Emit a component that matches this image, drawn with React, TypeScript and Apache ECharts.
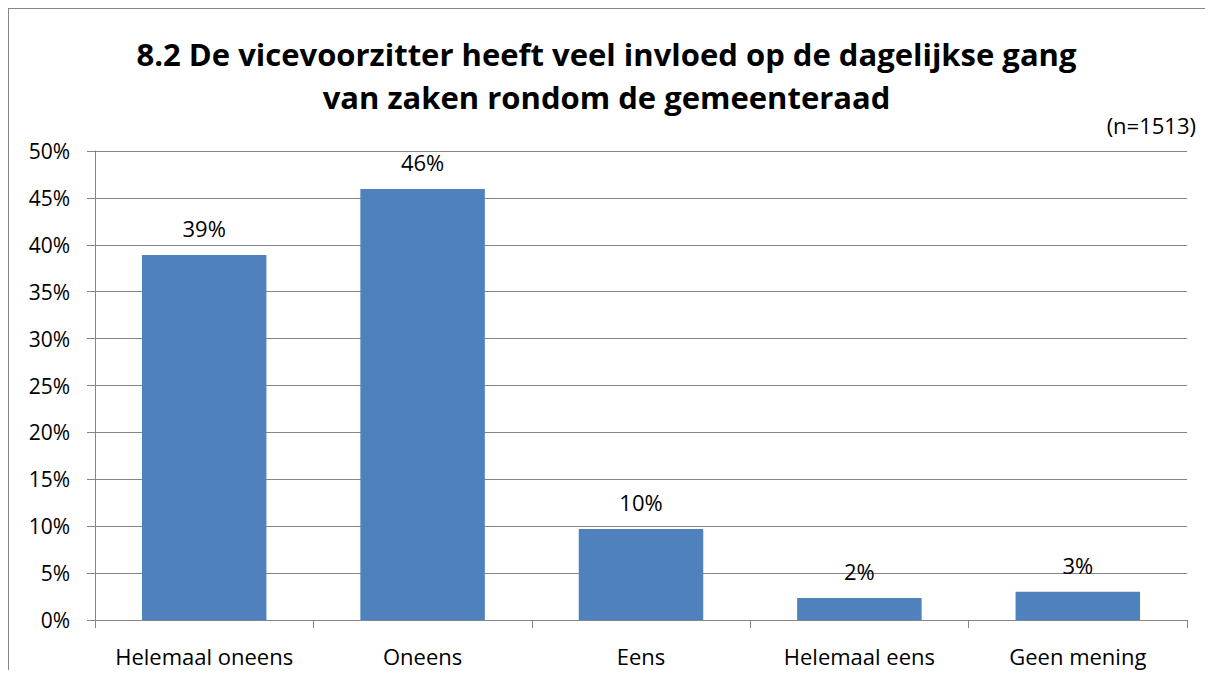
import React, { useEffect, useRef } from "react";
import * as echarts from "echarts";

const categories = ["Helemaal oneens", "Oneens", "Eens", "Helemaal eens", "Geen mening"];
const values = [38.9, 45.95, 9.7, 2.35, 3.0];
const titleLines = [
  "8.2 De vicevoorzitter heeft veel invloed op de dagelijkse gang",
  "van zaken rondom de gemeenteraad",
];
const noteText = "(n=1513)";

const FONT = "'Open Sans', 'Liberation Sans', sans-serif";
const GRAY = "#868686";

export default function App() {
  const ref = useRef<HTMLDivElement>(null);
  useEffect(() => {
    if (!ref.current) return;
    const chart = echarts.init(ref.current, null, { renderer: "svg" });
    chart.setOption({
      animation: false,
      backgroundColor: "#fff",
      title: {
        text: titleLines.join("\n"),
        left: "center",
        top: 19,
        textStyle: {
          fontFamily: FONT,
          fontWeight: "bold",
          fontSize: 31,
          lineHeight: 43,
          color: "#000",
        },
      },
      graphic: [
        {
          type: "line",
          shape: { x1: 0, y1: 0, x2: 1300, y2: 0 },
          style: { stroke: GRAY, lineWidth: 2 },
          silent: true,
        },
        {
          type: "line",
          shape: { x1: 0, y1: 0, x2: 0, y2: 800 },
          style: { stroke: GRAY, lineWidth: 2 },
          silent: true,
        },
        {
          type: "text",
          right: 9,
          top: 106,
          style: { text: noteText, font: `22px ${FONT}`, fill: "#000" },
        },
      ],
      grid: { left: 87, right: 18, top: 143, bottom: 50 },
      xAxis: {
        type: "category",
        data: categories,
        axisLine: { lineStyle: { color: GRAY } },
        axisTick: { show: true, length: 8, lineStyle: { color: GRAY } },
        axisLabel: { color: "#000", fontSize: 22, fontFamily: FONT, margin: 25, interval: 0 },
      },
      yAxis: {
        type: "value",
        min: 0,
        max: 50,
        interval: 5,
        axisLine: { show: true, lineStyle: { color: GRAY } },
        axisTick: { show: true, length: 8, lineStyle: { color: GRAY } },
        axisLabel: {
          color: "#000",
          fontSize: 21,
          fontFamily: FONT,
          margin: 25,
          formatter: (v: number) => `${v}%`,
        },
        splitLine: { lineStyle: { color: GRAY } },
      },
      series: [
        {
          type: "bar",
          data: values,
          barWidth: "57%",
          itemStyle: { color: "#4F81BD" },
          label: {
            show: true,
            position: "top",
            distance: 16,
            color: "#000",
            fontSize: 22,
            fontFamily: FONT,
            formatter: (p: any) => `${Math.round(p.value)}%`,
          },
        },
      ],
    });
    return () => chart.dispose();
  }, []);
  return <div ref={ref} style={{ width: 1197, height: 662 }} />;
}
